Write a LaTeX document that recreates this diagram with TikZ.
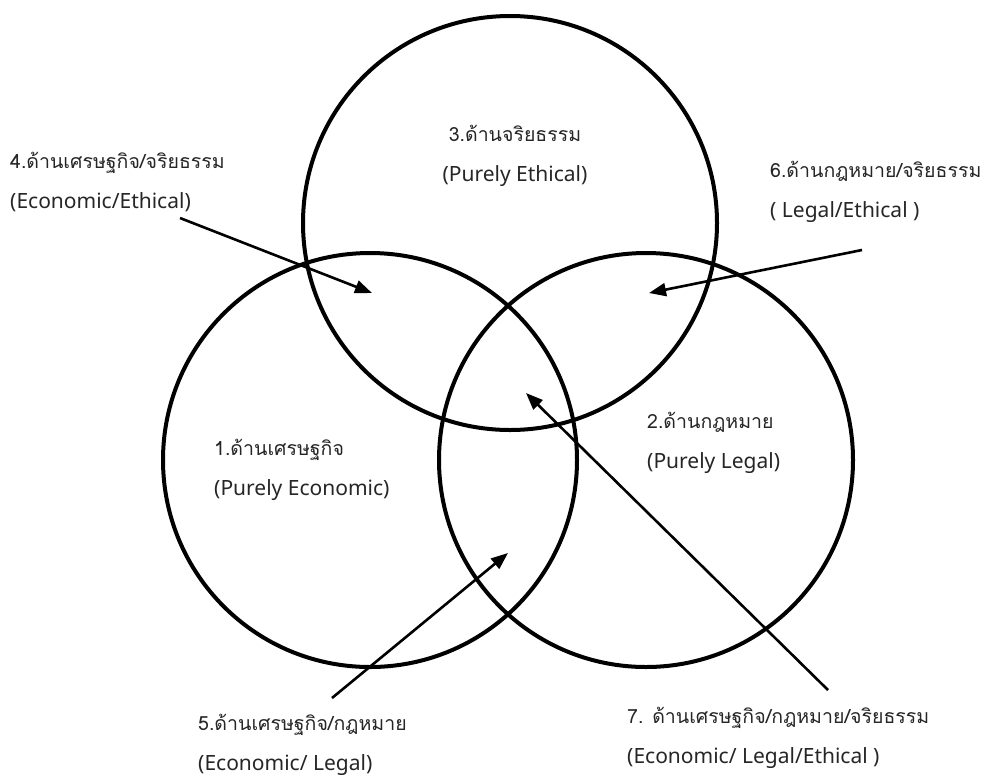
\documentclass[tikz,border=0pt]{standalone}
\usepackage{fontspec}
\setmainfont{Noto Sans}
\newfontfamily\thaifont[Script=Thai, Scale=0.93]{Loma}
\usetikzlibrary{arrows.meta}

\begin{document}
\begin{tikzpicture}[x=1pt, y=-1pt]
  \tikzstyle{ring} = [draw=black, line width=4pt, circle, minimum size=414pt, inner sep=0pt]
  \tikzstyle{txt} = [anchor=west, align=left, text=black!85, inner sep=0pt, font=\fontsize{21}{40}\selectfont]
  \tikzstyle{pointer} = [line width=2.6pt, -{Triangle[length=17pt, width=13pt]}]

  \useasboundingbox (0,0) rectangle (987,780);

  % the three circles
  \foreach \n / \x / \y in {econ/370/460, legal/646/460, ethic/510/223} {%
    \node[ring] (\n) at (\x, \y) {};
  }

  % texts
  \node[txt, align=center, anchor=center] (ethictxt) at (515,156) {\thaifont 3.ด้านจริยธรรม\\(Purely Ethical)};
  \node[txt] (econtxt) at (214,470) {\thaifont 1.ด้านเศรษฐกิจ\\(Purely Economic)};
  \node[txt] (legaltxt) at (647,443) {\thaifont 2.ด้านกฎหมาย\\(Purely Legal)};
  \node[txt] (econethictxt) at (10,182) {\thaifont 4.ด้านเศรษฐกิจ/จริยธรรม\\(Economic/Ethical)};
  \node[txt] (legalethictxt) at (770,192) {\thaifont 6.ด้านกฎหมาย/จริยธรรม\\( Legal/Ethical )};
  \node[txt] (econlegaltxt) at (198,745) {\thaifont 5.ด้านเศรษฐกิจ/กฎหมาย\\(Economic/ Legal)};
  \node[txt] (alltxt) at (627,738) {\thaifont 7. ด้านเศรษฐกิจ/กฎหมาย/จริยธรรม\\(Economic/ Legal/Ethical )};

  % arrows
  \coordinate (a4) at (180,218);  \coordinate (t4) at (372,293);
  \coordinate (a6) at (862,250);  \coordinate (t6) at (649,293);
  \coordinate (a5) at (332,698);  \coordinate (t5) at (508,553);
  \coordinate (a7) at (828,690);  \coordinate (t7) at (526,393);
  \foreach \i in {4,6,5,7} {
    \draw[pointer] (a\i) -- (t\i);
  }

\end{tikzpicture}
\end{document}
